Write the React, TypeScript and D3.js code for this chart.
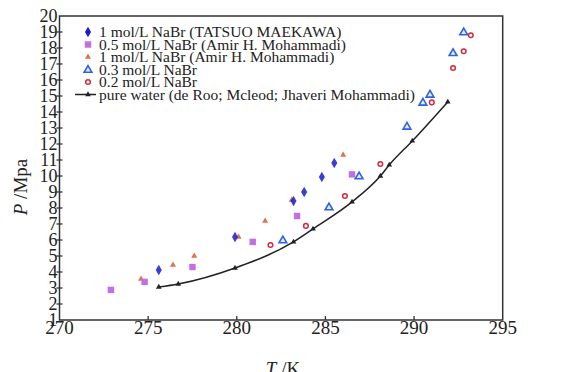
import React, { useRef, useEffect } from 'react';
import * as d3 from 'd3';

// T (K), P (MPa)
const maekawa1T = [275.6, 279.9, 283.2, 283.8, 284.8, 285.5];
const maekawa1P = [4.13, 6.19, 8.44, 9.0, 9.94, 10.81];
const amir05T = [272.9, 274.8, 277.5, 280.9, 283.4, 286.5];
const amir05P = [2.88, 3.38, 4.31, 5.88, 7.5, 10.1];
const amir1T = [274.6, 276.4, 277.6, 280.1, 281.6, 283.1, 286.0];
const amir1P = [3.56, 4.44, 5.0, 6.19, 7.19, 8.5, 11.31];
const c03T = [282.6, 285.2, 286.9, 289.6, 290.5, 290.9, 292.2, 292.8];
const c03P = [6.0, 8.06, 10.0, 13.1, 14.6, 15.1, 17.7, 19.0];
const c02T = [281.9, 283.9, 286.1, 288.1, 291.0, 292.2, 292.8, 293.2];
const c02P = [5.69, 6.88, 8.75, 10.75, 14.6, 16.75, 17.8, 18.8];
const waterT = [275.6, 276.7, 279.9, 283.2, 284.3, 286.5, 288.1, 288.6, 289.9, 291.9];
const waterP = [3.06, 3.25, 4.25, 5.88, 6.69, 8.38, 10.0, 10.69, 12.19, 14.63];

const xTicks = [270, 275, 280, 285, 290, 295];
const yTicks = d3.range(1, 21);
const legendLabels = [
  '1 mol/L NaBr (TATSUO MAEKAWA)',
  '0.5 mol/L NaBr (Amir H. Mohammadi)',
  '1 mol/L NaBr (Amir H. Mohammadi)',
  '0.3 mol/L NaBr',
  '0.2 mol/L NaBr',
  'pure water (de Roo; Mcleod; Jhaveri Mohammadi)',
];

const zip = (t: number[], p: number[]) => t.map((v, i) => ({ t: v, p: p[i] }));

export default function App() {
  const svgRef = useRef<SVGSVGElement>(null);

  useEffect(() => {
    if (!svgRef.current) return;
    const W = 565, H = 372;
    const svg = d3.select(svgRef.current);
    svg.selectAll('*').remove();
    const font = 'Liberation Serif, Tinos, Times, DejaVu Serif, serif';
    const x = d3.scaleLinear().domain([270, 295]).range([59.5, 502.7]);
    const y = d3.scaleLinear().domain([1, 20]).range([320, 16]);

    svg.append('rect').attr('width', W).attr('height', H).attr('fill', '#fff');

    // frame
    svg.append('rect').attr('x', x(270)).attr('y', y(20)).attr('width', x(295) - x(270)).attr('height', y(1) - y(20))
      .attr('fill', 'none').attr('stroke', '#333').attr('stroke-width', 1.5);

    // ticks
    xTicks.slice(1, -1).forEach(t => {
      svg.append('line').attr('x1', x(t)).attr('x2', x(t)).attr('y1', y(1)).attr('y2', y(1) - 4).attr('stroke', '#333').attr('stroke-width', 1.3);
    });
    xTicks.forEach(t => {
      svg.append('text').attr('x', x(t)).attr('y', 334).attr('text-anchor', 'middle').style('font-family', font)
        .attr('font-size', 19).attr('fill', '#222').text(t);
    });
    yTicks.forEach(t => {
      if (t > 1 && t < 20) svg.append('line').attr('x1', x(270) - 3).attr('x2', x(270) + 3).attr('y1', y(t)).attr('y2', y(t)).attr('stroke', '#333').attr('stroke-width', 1.3);
      svg.append('text').attr('x', x(270) - 2).attr('y', y(t)).attr('dy', '0.36em').attr('text-anchor', 'end').style('font-family', font)
        .attr('font-size', 18).attr('fill', '#222').text(t);
    });

    // axis titles
    const xt = svg.append('text').attr('x', 283).attr('y', 375).attr('text-anchor', 'middle').style('font-family', font).attr('font-size', 19).attr('fill', '#222');
    xt.append('tspan').attr('font-style', 'italic').text('T');
    xt.append('tspan').text(' /K');
    const yt = svg.append('text').attr('transform', 'translate(27,187) rotate(-90)').attr('text-anchor', 'middle').style('font-family', font).attr('font-size', 19).attr('fill', '#222');
    yt.append('tspan').attr('font-style', 'italic').text('P');
    yt.append('tspan').text(' /Mpa');

    // marker drawers
    const tri = d3.symbol().type(d3.symbolTriangle);
    const drawers: ((g: any, cx: number, cy: number) => void)[] = [
      (g, cx, cy) => g.append('path').attr('d', d3.symbol().type(d3.symbolDiamond).size(32)()).attr('transform', `translate(${cx},${cy})`).attr('fill', '#1c1cc8'),
      (g, cx, cy) => g.append('rect').attr('x', cx - 3.2).attr('y', cy - 3.2).attr('width', 6.4).attr('height', 6.4).attr('fill', '#c26ee6'),
      (g, cx, cy) => g.append('path').attr('d', tri.size(16)()).attr('transform', `translate(${cx},${cy})`).attr('fill', '#e2704a'),
      (g, cx, cy) => g.append('path').attr('d', tri.size(26)()).attr('transform', `translate(${cx},${cy + 0.5})`).attr('fill', '#e6ecff').attr('stroke', '#2f62de').attr('stroke-width', 1.6),
      (g, cx, cy) => g.append('circle').attr('cx', cx).attr('cy', cy).attr('r', 2.3).attr('fill', '#fff').attr('stroke', '#d4283c').attr('stroke-width', 1.5),
      (g, cx, cy) => g.append('path').attr('d', tri.size(14)()).attr('transform', `translate(${cx},${cy})`).attr('fill', '#222'),
    ];

    // pure water curve
    const water = zip(waterT, waterP);
    const line = d3.line<{ t: number; p: number }>().x(d => x(d.t)).y(d => y(d.p)).curve(d3.curveMonotoneX);
    svg.append('path').datum(water).attr('d', line).attr('fill', 'none').attr('stroke', '#222').attr('stroke-width', 1.5);
    const gw = svg.append('g');
    water.forEach(d => drawers[5](gw, x(d.t), y(d.p)));

    const series = [
      { data: zip(amir1T, amir1P), k: 2 },
      { data: zip(amir05T, amir05P), k: 1 },
      { data: zip(c02T, c02P), k: 4 },
      { data: zip(c03T, c03P), k: 3 },
      { data: zip(maekawa1T, maekawa1P), k: 0 },
    ];
    series.forEach(s => {
      const g = svg.append('g').attr('opacity', s.k === 0 ? 0.85 : 1);
      s.data.forEach(d => drawers[s.k](g, x(d.t), y(d.p)));
    });

    // legend
    const lg = svg.append('g');
    legendLabels.forEach((lab, i) => {
      const cy = 32 + i * 12.5;
      if (i === 5) {
        lg.append('line').attr('x1', 75).attr('x2', 96).attr('y1', cy).attr('y2', cy).attr('stroke', '#222').attr('stroke-width', 1.5);
      }
      drawers[i](lg, 88, cy);
      lg.append('text').attr('x', 99).attr('y', cy).attr('dy', '0.35em').style('font-family', font).attr('font-size', 15.5)
        .attr('fill', '#222').text(lab);
    });
  }, []);

  return (
    <svg ref={svgRef} width={565} height={372} style={{ position: 'absolute', left: 0, top: 0 }} />
  );
}
